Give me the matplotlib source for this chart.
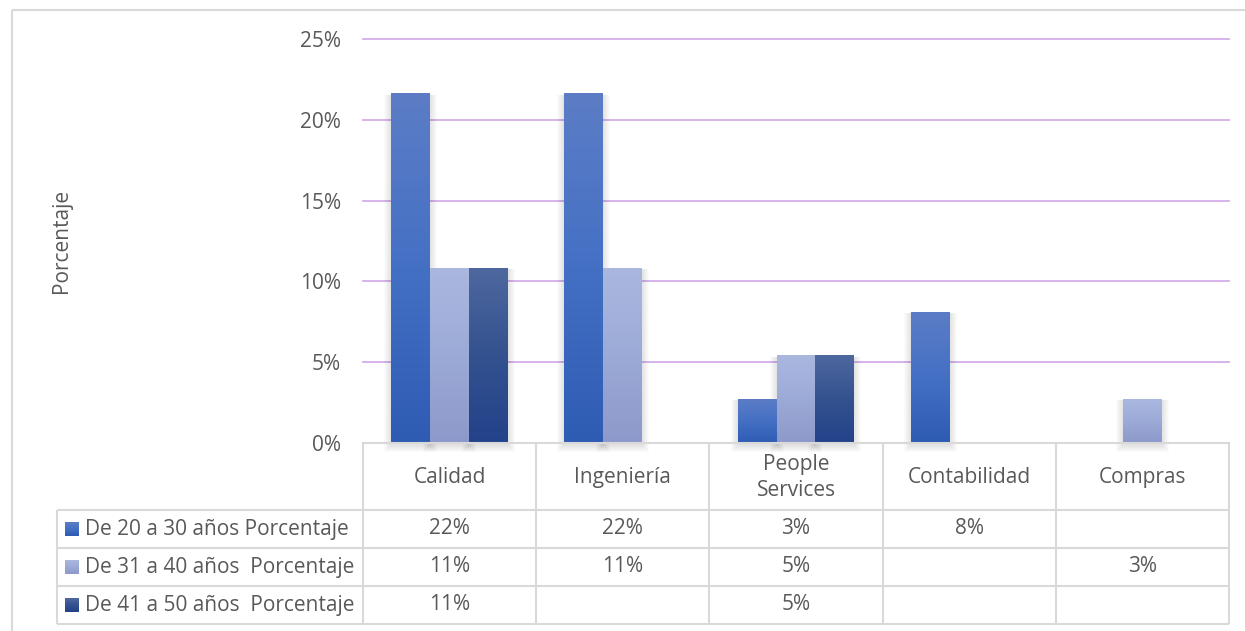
import numpy as np
import matplotlib.pyplot as plt
from matplotlib.colors import LinearSegmentedColormap
from matplotlib.patches import Rectangle

plt.rcParams['font.family'] = ['Open Sans', 'DejaVu Sans']

# ---- data -------------------------------------------------------------
categories = ["Calidad", "Ingeniería", "People\nServices", "Contabilidad", "Compras"]
series_names = ["De 20 a 30 años Porcentaje",
                "De 31 a 40 años  Porcentaje",
                "De 41 a 50 años  Porcentaje"]
age_20_30 = [21.6, 21.6, 2.7, 8.1, np.nan]
age_31_40 = [10.8, 10.8, 5.4, np.nan, 2.7]
age_41_50 = [10.8, np.nan, 5.4, np.nan, np.nan]
y_ticks = [0, 5, 10, 15, 20, 25]

series_values = [age_20_30, age_31_40, age_41_50]
# (top, middle, bottom) colours of each series' vertical gradient
series_colors = [("#5C7DC6", "#4470C4", "#2E5CB3"),
                 ("#AAB8E0", "#9CAAD7", "#8C99CA"),
                 ("#4E689F", "#34528F", "#22428A")]

TEXT = "#595959"
LINE = "#D9D9D9"
GRID = "#D3ACEB"
FS = 15

W, H = 1245, 631
fig = plt.figure(figsize=(W / 100, H / 100), dpi=100)
fig.patch.set_facecolor("white")


def fx(px):
    return px / W


def fy(py):
    return 1 - py / H


# ---- plot area --------------------------------------------------------
L, R, T, B = 363, 1229, 39, 443
ax = fig.add_axes([fx(L), fy(B), fx(R) - fx(L), fy(T) - fy(B)])
ax.set_facecolor("none")
n_cat = len(categories)
x = np.arange(n_cat)
bw = 0.225
px_x = n_cat / (R - L)          # data units per pixel, horizontal
px_y = 25 / (B - T)             # data units per pixel, vertical

for i, (vals, cols) in enumerate(zip(series_values, series_colors)):
    offs = (i - 1) * bw
    bars = ax.bar(x + offs, np.nan_to_num(vals), bw, color="none",
                  edgecolor="none", zorder=3)
    cmap = LinearSegmentedColormap.from_list(f"s{i}", list(cols))
    grad = np.linspace(0, 1, 256).reshape(-1, 1)
    for v, p in zip(vals, bars.patches):
        if np.isnan(v):
            continue
        x0, w, h = p.get_x(), p.get_width(), p.get_height()
        # soft drop shadow, mostly at the sides and below
        for k in range(1, 8):
            ax.add_patch(Rectangle((x0 - k * px_x, -(k + 2) * px_y),
                                   w + 2 * k * px_x, h + (k + 1) * px_y,
                                   facecolor="black", alpha=0.014,
                                   edgecolor="none", zorder=2, clip_on=False))
        ax.imshow(grad, extent=[x0, x0 + w, 0, h], origin="upper",
                  cmap=cmap, aspect="auto", zorder=3, interpolation="bilinear")

ax.set_xlim(-0.5, n_cat - 0.5)
ax.set_ylim(0, 25)
ax.set_yticks(y_ticks)
ax.set_yticklabels([f"{t}%" for t in y_ticks])
ax.set_xticks([])
ax.tick_params(axis="y", length=0, pad=16, labelsize=FS, labelcolor=TEXT)
ax.yaxis.grid(True, color=GRID, lw=1.3, zorder=0)
for gl in ax.get_ygridlines():
    gl.set_clip_on(False)
ax.set_axisbelow(True)
for s in ax.spines.values():
    s.set_visible(False)

fig.text(fx(61), fy((T + B) / 2), "Porcentaje", rotation=90, ha="center",
         va="center", fontsize=FS, color=TEXT)

# ---- data table -------------------------------------------------------
tb = fig.add_axes([0, 0, 1, 1], zorder=5)
tb.set_xlim(0, W)
tb.set_ylim(H, 0)
tb.axis("off")
tb.patch.set_alpha(0)

col_edges = np.linspace(L, R, n_cat + 1)
row_edges = [B, 510, 548, 586, 624]
lw = 1.5

# outer chart border
tb.add_patch(Rectangle((12, 10), W + 20, H + 20, facecolor="none",
                       edgecolor=LINE, lw=1.5, clip_on=True))

tb.plot([L, R], [B, B], color=LINE, lw=lw, solid_capstyle="butt")
for yy in row_edges[1:]:
    tb.plot([57, R], [yy, yy], color=LINE, lw=lw, solid_capstyle="butt")
for xx in col_edges:
    tb.plot([xx, xx], [B, row_edges[-1]], color=LINE, lw=lw,
            solid_capstyle="butt")
tb.plot([57, 57], [row_edges[1], row_edges[-1]], color=LINE, lw=lw,
        solid_capstyle="butt")

centers = (col_edges[:-1] + col_edges[1:]) / 2
for cx, name in zip(centers, categories):
    tb.text(cx, (row_edges[0] + row_edges[1]) / 2 + 1, name, ha="center",
            va="center", fontsize=FS, color=TEXT, linespacing=1.3)

for r, (name, vals, cols) in enumerate(zip(series_names, series_values,
                                           series_colors)):
    cy = (row_edges[r + 1] + row_edges[r + 2]) / 2
    cmap = LinearSegmentedColormap.from_list(f"k{r}", list(cols))
    tb.imshow(np.linspace(0, 1, 64).reshape(-1, 1),
              extent=[65, 79, cy + 7, cy - 7], origin="upper", cmap=cmap,
              aspect="auto", zorder=3)
    tb.text(85, cy, name, ha="left", va="center", fontsize=FS, color=TEXT)
    for cx, v in zip(centers, vals):
        if not np.isnan(v):
            tb.text(cx, cy, f"{v:.0f}%", ha="center", va="center",
                    fontsize=FS, color=TEXT)
tb.set_xlim(0, W)
tb.set_ylim(H, 0)

fig.savefig("out.png", dpi=100)
